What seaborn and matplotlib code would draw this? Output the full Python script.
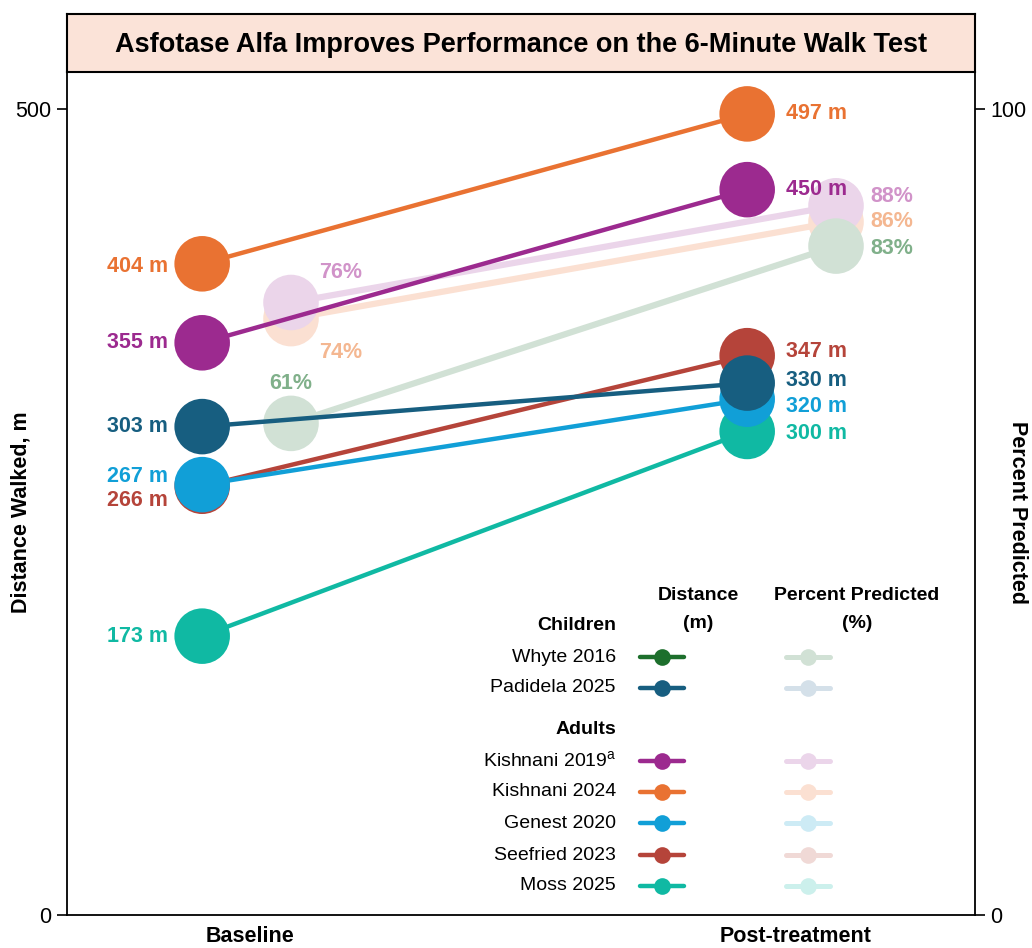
import numpy as np
import pandas as pd
import matplotlib
matplotlib.use("Agg")
import matplotlib.pyplot as plt
import seaborn as sns

# ---- data ----
studies = ["Whyte 2016", "Padidela 2025", "Kishnani 2019", "Kishnani 2024",
           "Genest 2020", "Seefried 2023", "Moss 2025"]
groups = ["Children", "Children", "Adults", "Adults", "Adults", "Adults", "Adults"]
dist_baseline = [np.nan, 303, 355, 404, 267, 266, 173]
dist_post = [np.nan, 330, 450, 497, 320, 347, 300]
pct_baseline = [61, np.nan, 76, 74, np.nan, np.nan, np.nan]
pct_post = [83, np.nan, 88, 86, np.nan, np.nan, np.nan]
timepoints = ["Baseline", "Post-treatment"]

dist_colors = ["#1d6f2c", "#175e80", "#9c2a8f", "#e97232", "#119fd7", "#b5443a", "#10b9a3"]
pale_colors = ["#d1e1d5", "#d4e0e9", "#ebd5ea", "#fbe0d2", "#cdebf5", "#f0d9d6", "#ccf0ec"]
pct_text_colors = {"Whyte 2016": "#80b08a", "Kishnani 2019": "#d193c9", "Kishnani 2024": "#f4b791"}

# drawing order (later = on top)
dist_order = ["Moss 2025", "Seefried 2023", "Genest 2020", "Padidela 2025",
              "Kishnani 2019", "Kishnani 2024"]
pct_order = ["Kishnani 2024", "Kishnani 2019", "Whyte 2016"]

# label offsets in pixels for each point
dist_base_off = {"Padidela 2025": 0, "Kishnani 2019": 0, "Kishnani 2024": -3,
                 "Genest 2020": 8, "Seefried 2023": -14, "Moss 2025": 0}
dist_post_off = {"Padidela 2025": 3, "Kishnani 2019": 0, "Kishnani 2024": 0,
                 "Genest 2020": -7, "Seefried 2023": 4, "Moss 2025": -2}
pct_base_off = {"Whyte 2016": (0, 40, "center"), "Kishnani 2019": (28, 30, "left"),
                "Kishnani 2024": (28, -34, "left")}
pct_post_off = {"Whyte 2016": -2, "Kishnani 2019": 9, "Kishnani 2024": 0}

DIST_SHIFT = -0.088
PCT_SHIFT = 0.075

rows = []
for i, s in enumerate(studies):
    for t, (d, p) in enumerate([(dist_baseline[i], pct_baseline[i]), (dist_post[i], pct_post[i])]):
        rows.append({"study": s, "t": t, "dist": d, "pct": p})
df = pd.DataFrame(rows)
df["x_dist"] = df["t"] + DIST_SHIFT
df["x_pct"] = df["t"] + PCT_SHIFT

dist_df = df.dropna(subset=["dist"]).copy()
dist_df["order"] = dist_df["study"].map({s: k for k, s in enumerate(dist_order)})
dist_df = dist_df.sort_values(["order", "t"])
pct_df = df.dropna(subset=["pct"]).copy()
pct_df["order"] = pct_df["study"].map({s: k for k, s in enumerate(pct_order)})
pct_df = pct_df.sort_values(["order", "t"])

dist_pal = dict(zip(studies, dist_colors))
pale_pal = dict(zip(studies, pale_colors))

sns.set_style("ticks")
plt.rcParams["font.family"] = ["Liberation Sans", "DejaVu Sans"]
plt.rcParams["mathtext.fontset"] = "custom"
plt.rcParams["mathtext.rm"] = "Liberation Sans"
plt.rcParams["text.color"] = "black"
plt.rcParams["axes.labelcolor"] = "black"
plt.rcParams["xtick.color"] = "black"
plt.rcParams["ytick.color"] = "black"

W, H = 1032, 948
fig = plt.figure(figsize=(W / 100, H / 100), dpi=100)
L, R, T, B = 67, 975, 72, 915
ax = fig.add_axes([L / W, (H - B) / H, (R - L) / W, (B - T) / H])
ax2 = ax.twinx()
ax.set_zorder(ax2.get_zorder() + 1)
ax.patch.set_visible(False)

DOT = 1600

# percent predicted (pale, behind)
sns.lineplot(data=pct_df, x="x_pct", y="pct", hue="study", hue_order=pct_order,
             palette=pale_pal, lw=4.5, estimator=None, sort=False, legend=False, ax=ax2)
sns.scatterplot(data=pct_df, x="x_pct", y="pct", hue="study", palette=pale_pal,
                s=DOT, linewidth=0, legend=False, ax=ax2, zorder=3)

# distance walked
sns.lineplot(data=dist_df, x="x_dist", y="dist", hue="study", hue_order=dist_order,
             palette=dist_pal, lw=3.2, estimator=None, sort=False, legend=False, ax=ax)
sns.scatterplot(data=dist_df, x="x_dist", y="dist", hue="study", palette=dist_pal,
                s=DOT, linewidth=0, legend=False, ax=ax, zorder=3)

# value labels
fs_lab = 15.5
for _, r in dist_df.iterrows():
    c = dist_pal[r["study"]]
    if r["t"] == 0:
        ax.annotate(f"{int(r['dist'])} m", (r["x_dist"], r["dist"]),
                    xytext=(-34, dist_base_off[r["study"]]), textcoords="offset pixels",
                    ha="right", va="center", fontsize=fs_lab, fontweight="bold", color=c, zorder=5)
    else:
        ax.annotate(f"{int(r['dist'])} m", (r["x_dist"], r["dist"]),
                    xytext=(39, dist_post_off[r["study"]]), textcoords="offset pixels",
                    ha="left", va="center", fontsize=fs_lab, fontweight="bold", color=c, zorder=5)
for _, r in pct_df.iterrows():
    c = pct_text_colors[r["study"]]
    if r["t"] == 0:
        dx, dy, ha = pct_base_off[r["study"]]
    else:
        dx, dy, ha = 34, pct_post_off[r["study"]], "left"
    ax2.annotate(f"{int(r['pct'])}%", (r["x_pct"], r["pct"]),
                 xytext=(dx, dy), textcoords="offset pixels",
                 ha=ha, va="center", fontsize=fs_lab, fontweight="bold", color=c, zorder=5)

# axes
ax.set_xlim(-0.336, 1.330)
ax.set_ylim(0, 523)
ax2.set_ylim(0, 104.6)
ax.set_xticks([0, 1])
ax.set_xticklabels(timepoints, fontsize=15.5, fontweight="bold")
ax.tick_params(axis="x", length=0, pad=8)
ax.set_yticks([0, 500])
ax2.set_yticks([0, 100])
ax.tick_params(axis="y", length=7, width=1.2, labelsize=15.5, pad=4)
ax2.tick_params(axis="y", length=7, width=1.2, labelsize=15.5, pad=4)
ax.set_xlabel("")
ax.set_ylabel("Distance Walked, m", fontsize=15.5, fontweight="bold")
ax2.set_ylabel("Percent Predicted", fontsize=15.5, fontweight="bold", rotation=270)
ax.yaxis.set_label_coords(-0.039, 0.478)
ax2.yaxis.set_label_coords(1.058, 0.478)
for a in (ax, ax2):
    a.spines["top"].set_visible(False)
    for sp in a.spines.values():
        sp.set_linewidth(1.3)
        sp.set_color("black")
ax.spines["right"].set_visible(False)
for k in ("left", "bottom"):
    ax2.spines[k].set_visible(False)

# title box
tax = fig.add_axes([L / W, (H - T) / H, (R - L) / W, 58 / H])
tax.set_facecolor("#fbe3d8")
tax.set_xticks([])
tax.set_yticks([])
for sp in tax.spines.values():
    sp.set_linewidth(1.5)
    sp.set_color("black")
tax.text(0.5, 0.47, "Asfotase Alfa Improves Performance on the 6-Minute Walk Test",
         ha="center", va="center", fontsize=19.5, fontweight="bold", transform=tax.transAxes)

# custom legend table
def fx(px):
    return (px - L) / (R - L)

def fy(py):
    return (B - py) / (B - T)

lt = ax.transAxes
TX = 616
for txt, cx in [("Distance", 698), ("Percent Predicted", 857)]:
    ax.text(fx(cx), fy(595), txt, transform=lt, ha="center", va="center",
            fontsize=14, fontweight="bold")
for txt, cx in [("(m)", 698), ("(%)", 857)]:
    ax.text(fx(cx), fy(624), txt, transform=lt, ha="center", va="center",
            fontsize=14, fontweight="bold")
ax.text(fx(TX), fy(626), "Children", transform=lt, ha="right", va="center",
        fontsize=14, fontweight="bold")
ax.text(fx(TX), fy(730), "Adults", transform=lt, ha="right", va="center",
        fontsize=14, fontweight="bold")
legend_labels = {"Kishnani 2019": "Kishnani 2019$^{\\mathrm{a}}$"}
legend_y = [657, 688, 761, 792, 823, 855, 886]
for s, yy in zip(studies, legend_y):
    ax.text(fx(TX), fy(yy), legend_labels.get(s, s), transform=lt, ha="right", va="center",
            fontsize=14)
    ax.plot([fx(640), fx(684)], [fy(yy), fy(yy)], transform=lt, color=dist_pal[s], lw=3.2,
            clip_on=False, zorder=6)
    ax.plot([fx(662)], [fy(yy)], transform=lt, color=dist_pal[s], marker="o", ms=12,
            mew=0, clip_on=False, zorder=7)
    ax.plot([fx(786), fx(830)], [fy(yy), fy(yy)], transform=lt, color=pale_pal[s], lw=3.6,
            clip_on=False, zorder=6)
    ax.plot([fx(808)], [fy(yy)], transform=lt, color=pale_pal[s], marker="o", ms=12,
            mew=0, clip_on=False, zorder=7)

fig.savefig("out.png", dpi=100)
